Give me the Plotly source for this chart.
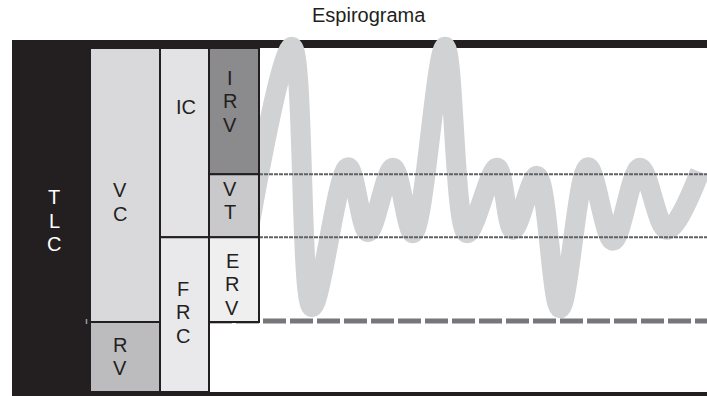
import plotly.graph_objects as go

# ---------------- data ----------------
# lung volumes (mL)
RV = 1220
ERV = 1480
VT = 1100
IRV = 2200
TLC = RV + ERV + VT + IRV          # 6000
FRC = RV + ERV
IC = VT + IRV
VC = ERV + VT + IRV

# spirogram trace: time (s) and volume (mL)
wave_t = [-0.52, 1.32, 2.12, 3.56, 4.36, 5.36, 6.16, 7.44, 8.32, 9.52,
          10.16, 11.12, 12.04, 13.16, 14.16, 15.24, 16.32, 17.64]
wave_v = [2560, 6020, 1480, 3920, 2790, 3910, 2770, 6020, 2770, 3910,
          2830, 3770, 1460, 3920, 2640, 3910, 2830, 3840]

title_text = "Espirograma"

# ---------------- layout helpers (screen pixel coordinates) ----------------
W, H = 707, 396
PL, PT = 12, 36            # plot area left / top
ML, MR, MT, MB = PL, 0, PT, 0
PX_PER_S = 25.0
T0_PX = 259.0              # pixel where t = 0
ZERO_PX = 392.0            # pixel of zero volume
K = TLC / (ZERO_PX - 48.0) # mL per pixel


def tx(px):
    return (px - T0_PX) / PX_PER_S


def vy(py):
    return (ZERO_PX - py) * K


x_range = [tx(PL), tx(W)]
y_range = [vy(H), vy(PT)]

DARK = "#231f20"
FONT = "Liberation Sans, Arial, Helvetica, sans-serif"

fig = go.Figure()

fig.add_trace(go.Scatter(
    x=wave_t, y=wave_v, mode="lines",
    line=dict(color="#d1d2d4", width=20, shape="spline", smoothing=1.0),
    hoverinfo="skip", showlegend=False,
))

shapes = []
# black frame (below trace)
shapes.append(dict(type="rect", xref="x", yref="y", layer="below",
                   x0=tx(12), x1=tx(707), y0=TLC, y1=vy(40),
                   fillcolor=DARK, line=dict(width=0)))
shapes.append(dict(type="rect", xref="x", yref="y", layer="below",
                   x0=tx(12), x1=tx(90), y0=vy(396), y1=vy(40),
                   fillcolor=DARK, line=dict(width=0)))
shapes.append(dict(type="rect", xref="x", yref="y", layer="below",
                   x0=tx(12), x1=tx(707), y0=vy(396), y1=0,
                   fillcolor=DARK, line=dict(width=0)))

# dashed RV line (above trace)
shapes.append(dict(type="line", xref="x", yref="y", layer="above",
                   x0=tx(209), x1=tx(707), y0=RV + 20, y1=RV + 20,
                   line=dict(color="#76777a", width=5, dash="23px,4px")))
# dotted FRC / end-inspiration lines
for lvl in (FRC, FRC + VT):
    shapes.append(dict(type="line", xref="x", yref="y", layer="above",
                       x0=tx(259), x1=tx(707), y0=lvl, y1=lvl,
                       line=dict(color="#616265", width=2, dash="4px,1px")))

# volume boxes
boxes = [
    (90, 160, RV, TLC, "#d9d9db"),     # VC
    (90, 160, 0, RV, "#bcbcbe"),       # RV
    (160, 209, FRC, TLC, "#e3e3e5"),   # IC
    (160, 209, 0, FRC, "#e9e9eb"),     # FRC
    (209, 259, FRC + VT, TLC, "#8b8b8d"),  # IRV
    (209, 259, FRC, FRC + VT, "#c9c9cb"),  # VT
    (209, 259, RV, FRC, "#efeff0"),        # ERV
]
for x0, x1, y0, y1, col in boxes:
    shapes.append(dict(type="rect", xref="x", yref="y", layer="above",
                       x0=tx(x0), x1=tx(x1), y0=y0, y1=y1,
                       fillcolor=col, line=dict(color=DARK, width=2)))
# border under ERV column down to bottom
shapes.append(dict(type="line", xref="x", yref="y", layer="above",
                   x0=tx(209), x1=tx(209), y0=0, y1=RV,
                   line=dict(color=DARK, width=2)))
# small tick mark left of RV
shapes.append(dict(type="line", xref="x", yref="y", layer="above",
                   x0=tx(86.5), x1=tx(86.5), y0=vy(324), y1=vy(319),
                   line=dict(color="#9a9a9a", width=1.5)))

fig.update_layout(shapes=shapes)

# ---------------- labels ----------------
labels = [
    ("TLC", 54, [197, 221, 244], "white"),
    ("VC", 120, [190, 214], DARK),
    ("RV", 120, [345, 368], DARK),
    ("FRC", 183, [289, 312, 336], DARK),
    ("IRV", 230, [77.5, 101, 124.5], DARK),
    ("VT", 230, [189, 211.5], DARK),
    ("ERV", 232, [261, 284, 307.5], DARK),
]
ann = []
for word, px, pys, col in labels:
    for ch, py in zip(word, pys):
        ann.append(dict(x=tx(px), y=vy(py), xref="x", yref="y", text=ch,
                        showarrow=False, xanchor="center", yanchor="middle",
                        font=dict(family=FONT, size=20, color=col)))
ann.append(dict(x=tx(186), y=vy(106.5), xref="x", yref="y", text="IC",
                showarrow=False, xanchor="center", yanchor="middle",
                font=dict(family=FONT, size=20, color=DARK)))
ann.append(dict(x=(369 - PL) / (W - PL), y=(H - 14.7) / (H - PT),
                xref="paper", yref="paper", text=title_text,
                showarrow=False, xanchor="center", yanchor="middle",
                font=dict(family=FONT, size=20, color=DARK)))

fig.update_layout(
    annotations=ann,
    width=W, height=H,
    margin=dict(l=ML, r=MR, t=MT, b=MB, pad=0),
    paper_bgcolor="white", plot_bgcolor="white",
    xaxis=dict(range=x_range, visible=False, fixedrange=True),
    yaxis=dict(range=y_range, visible=False, fixedrange=True),
    showlegend=False,
)

fig.write_html(
    "out.html",
    config={"displayModeBar": False, "staticPlot": True},
    post_script="document.body.style.margin='0';"
                "document.body.style.overflow='hidden';",
)
